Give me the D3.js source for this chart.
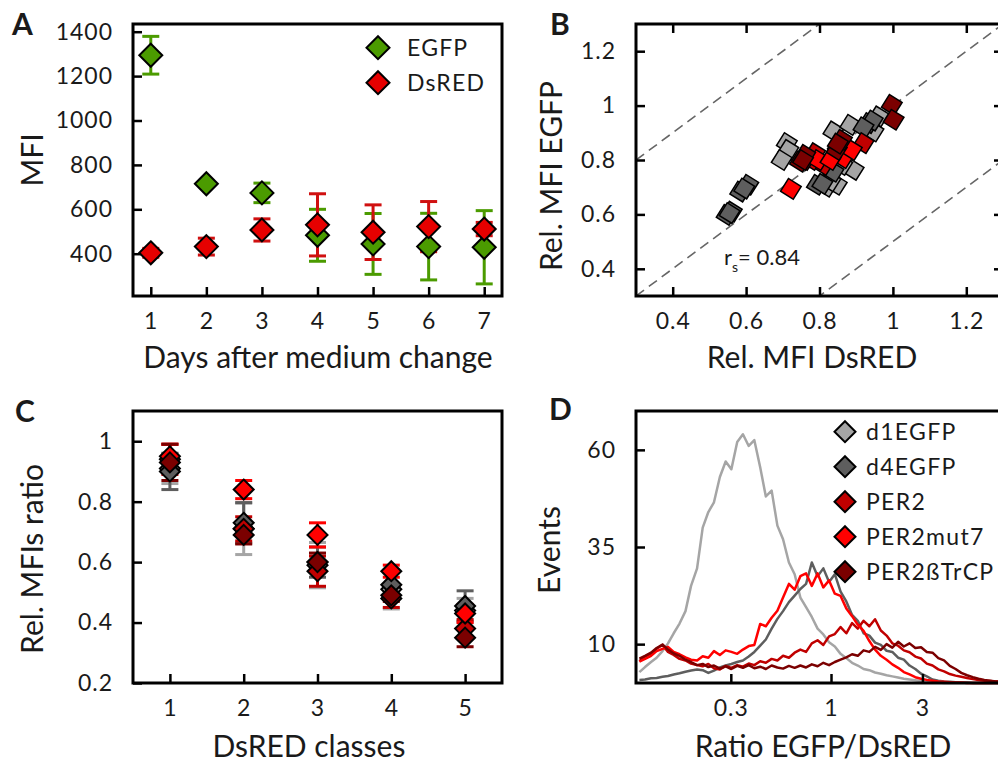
<!DOCTYPE html>
<html>
<head>
<meta charset="utf-8">
<title>EGFP / DsRED reporter panels</title>
<script src="https://cdn.jsdelivr.net/npm/d3@7"></script>
<style>
body{margin:0;background:#fff;}
svg text{font-family:Lato,"Open Sans",sans-serif;fill:#1a1a1a;}
.tick text{font-size:23px;letter-spacing:1px;}
</style>
</head>
<body>
<div id="fig"></div>
<script>
// ---------- panel A : MFI over days
var days = [1,2,3,4,5,6,7];
var egfpMFI  = [1294,715,674,483,444,432,429];
var egfpErr  = [85,10,44,117,137,150,165];
var dsredMFI = [404,432,507,530,497,522,511];
var dsredErr = [20,38,50,140,123,113,30];

// ---------- panel B : rel. MFI DsRED (x) vs rel. MFI EGFP (y)
var d1X = [0.711,0.715,0.697,0.820,0.847,0.893,0.838,0.884,0.961,0.947,0.830,0.862];
var d1Y = [0.862,0.837,0.800,0.702,0.709,0.764,0.905,0.929,0.960,0.905,0.722,0.782];
var d4X = [0.547,0.561,0.555,0.584,0.606,0.595,0.838,0.793,0.808,0.934,0.945,0.920];
var d4Y = [0.598,0.610,0.605,0.684,0.709,0.695,0.757,0.709,0.712,0.936,0.945,0.920];
var per2X = [0.788,0.811,0.920,0.780,0.850,0.760];
var per2Y = [0.825,0.782,0.862,0.800,0.850,0.800];
var mut7X = [0.722,0.797,0.865,0.888,0.830];
var mut7Y = [0.694,0.800,0.807,0.837,0.800];
var btrcpX = [0.761,0.747,0.847,0.861,0.997,1.002,0.755,0.850];
var btrcpY = [0.819,0.794,0.837,0.874,1.003,0.948,0.800,0.860];
var rs = 0.84;

// ---------- panel C : rel. MFIs ratio per DsRED class
var classes = [1,2,3,4,5];
var cD1    = [0.91,0.71,0.59,0.51,0.44], cD1Err    = [0.05,0.085,0.075,0.065,0.04];
var cD4    = [0.90,0.73,0.60,0.525,0.455], cD4Err  = [0.06,0.067,0.05,0.04,0.05];
var cPer2  = [0.94,0.71,0.57,0.48,0.38], cPer2Err  = [0.05,0.04,0.05,0.03,0.03];
var cMut7  = [0.95,0.84,0.69,0.57,0.43], cMut7Err  = [0.04,0.03,0.04,0.02,0.03];
var cBtrcp = [0.93,0.69,0.60,0.49,0.35], cBtrcpErr = [0.06,0.03,0.03,0.02,0.03];

// ---------- panel D : histograms of EGFP/DsRED ratio
var ratioBins = [0.100,0.107,0.115,0.123,0.132,0.141,0.151,0.162,0.174,0.186,
  0.200,0.214,0.229,0.245,0.263,0.282,0.302,0.324,0.347,0.372,
  0.398,0.427,0.457,0.490,0.525,0.562,0.603,0.646,0.692,0.741,
  0.794,0.851,0.912,0.977,1.047,1.122,1.202,1.288,1.380,1.479,
  1.585,1.698,1.820,1.950,2.089,2.239,2.399,2.570,2.754,2.951,
  3.162,3.388,3.631,3.890,4.169,4.467,4.786,5.129,5.495,5.888,
  6.310,6.761,7.244,7.762];
var histD1 = [2.8,4.1,5.4,6.5,8.2,10.2,12.8,15.3,18.5,25,
  29.5,40,44,46.5,53,57,55,62,64,61,
  62.5,55.5,48,49.5,40.5,37,31,28,22,19.5,
  17,14,12.5,10.5,9.4,7.5,6.4,5.2,4.5,3.6,
  3.3,2.7,2.4,2,1.7,1.4,1.1,0.9,0.7,0.5,
  0.3,0.2,0.1,0,0,0,0,0,0,0,0,0,0,0];
var histD4 = [0.8,0.9,1.2,1.3,1.6,1.8,2.2,2.5,2.9,3.2,
  3.5,3.3,2.6,3.2,4.0,4.5,4.9,5.4,5.8,6.8,
  8.0,9.6,11.2,14.0,16.5,18.5,20.8,22.5,24.2,25.5,
  31,27.5,29.5,26.0,28,23.5,21,17.5,16,12.8,
  12.2,10.4,9.8,8.3,8.0,6.5,6.0,4.5,3.6,2.4,
  1.7,0.9,0.6,0.4,0.3,0.2,0.1,0.1,0,0,0,0,0,0];
var histPer2 = [5.6,6.8,7.5,8.8,9.8,8.0,7.2,6.2,5.8,5.0,
  4.6,4.3,4.9,3.8,3.5,4.4,3.9,4.6,4.2,5.0,
  4.6,5.6,5.2,6.2,5.8,7.0,6.5,7.8,8.6,8.0,
  10.2,11.0,9.8,12.0,12.6,14.4,12.8,15.4,14.0,16.0,
  14.6,16.4,13.5,12.2,10.2,9.6,8.4,7.9,6.8,6.3,
  5.0,4.5,3.5,3.0,2.3,1.9,1.6,1.3,1.0,0.8,
  0.6,0.5,0.4,0.3];
var histMut7 = [5.5,6.2,7.0,8.2,8.8,9.3,8.0,7.4,6.6,6.0,
  5.8,6.9,6.5,8.2,7.2,8.4,8.0,7.5,8.6,9.5,
  9.8,15.2,14.6,16.8,18.6,22.0,25.5,24.0,27.5,28.2,
  25.0,28.2,24.6,26.4,23.0,22.4,19.2,17.2,15.0,13.4,
  10.8,8.6,7.0,6.0,4.8,3.9,2.8,2.2,1.5,1.1,
  0.8,0.6,0.4,0.3,0.2,0.1,0.1,0,0,0,0,0,0,0];
var histBtrcp = [6.3,7.0,7.8,9.0,9.9,8.6,7.6,7.0,6.0,5.4,
  4.6,4.9,4.1,4.5,3.7,4.3,3.6,4.4,3.9,4.6,
  3.8,4.2,3.6,4.5,4.0,3.7,4.4,3.9,4.5,4.0,
  4.8,4.3,5.2,4.6,5.4,6.0,6.6,7.4,7.0,8.4,
  8.0,9.3,8.5,10.0,9.1,10.6,9.4,10.2,9.0,9.2,
  8.0,7.8,6.4,5.8,4.4,3.6,2.6,2.0,1.5,1.1,
  0.8,0.6,0.4,0.3];

var seriesNames = ["d1EGFP","d4EGFP","PER2","PER2mut7","PER2\u00dfTrCP"];
var seriesColors = ["#a5a5a5","#5e5e5e","#c00000","#ff0000","#7b0000"];
var green = "#4b9b00", red = "#e60000", redBar = "#d01010";

var svg = d3.select("#fig").append("svg")
  .attr("width", 998).attr("height", 762);

function diamond(r){ return "M0," + (-r) + "L" + r + ",0L0," + r + "L" + (-r) + ",0Z"; }

// box + inward ticks
function frame(g, x, y, opts){
  var x0 = x.range()[0], x1 = x.range()[1], y0 = y.range()[0], y1 = y.range()[1];
  g.append("g").attr("transform", "translate(0," + y0 + ")")
    .call(d3.axisBottom(x).tickValues(opts.xt).tickFormat(opts.xf || d3.format("")).tickSize(-9).tickPadding(17));
  g.append("g").attr("transform", "translate(" + x0 + ",0)")
    .call(d3.axisLeft(y).tickValues(opts.yt).tickFormat(opts.yf || d3.format("")).tickSize(-9).tickPadding(20));
  if (opts.all) {
    g.append("g").attr("transform", "translate(0," + y1 + ")")
      .call(d3.axisTop(x).tickValues(opts.xt).tickFormat("").tickSize(-9));
    g.append("g").attr("transform", "translate(" + x1 + ",0)")
      .call(d3.axisRight(y).tickValues(opts.yt).tickFormat("").tickSize(-9));
  }
  g.selectAll(".domain").remove();
  g.selectAll(".tick line").attr("stroke", "#000").attr("stroke-width", 2.5);
  g.selectAll(".tick text").attr("fill", "#1a1a1a");
  g.append("rect").attr("x", x0).attr("y", y1).attr("width", x1 - x0).attr("height", y0 - y1)
    .attr("fill", "none").attr("stroke", "#000").attr("stroke-width", 3);
}

function label(t, x, y, rot){
  var s = svg.append("text").attr("text-anchor", "middle").style("font-size", "30px").text(t);
  if (rot) s.attr("transform", "translate(" + x + "," + y + ") rotate(-90)");
  else s.attr("x", x).attr("y", y);
  return s;
}

function errBars(g, xs, ys, es, x, y, color){
  var d = xs.map(function(v, i){ return [v, ys[i], es[i]]; });
  var eg = g.append("g").attr("stroke", color).attr("stroke-width", 3).attr("fill", "none");
  eg.selectAll(".v").data(d).enter().append("line")
    .attr("x1", function(p){ return x(p[0]); }).attr("x2", function(p){ return x(p[0]); })
    .attr("y1", function(p){ return y(p[1] - p[2]); }).attr("y2", function(p){ return y(p[1] + p[2]); });
  [-1, 1].forEach(function(s){
    eg.selectAll(".c" + s).data(d).enter().append("line")
      .attr("x1", function(p){ return x(p[0]) - 8.5; }).attr("x2", function(p){ return x(p[0]) + 8.5; })
      .attr("y1", function(p){ return y(p[1] + s * p[2]); }).attr("y2", function(p){ return y(p[1] + s * p[2]); });
  });
}

function diamonds(g, xs, ys, x, y, color, r){
  g.append("g").selectAll("path").data(xs.map(function(v, i){ return [v, ys[i]]; })).enter().append("path")
    .attr("d", diamond(r))
    .attr("transform", function(p){ return "translate(" + x(p[0]) + "," + y(p[1]) + ")"; })
    .attr("fill", color).attr("stroke", "#000").attr("stroke-width", 2);
}

// ================= A
var gA = svg.append("g");
var xA = d3.scaleLinear().domain([0.68, 7.32]).range([133, 502]);
var yA = d3.scaleLinear().domain([209.5, 1434.7]).range([296, 24]);
frame(gA, xA, yA, {xt: days, yt: [400,600,800,1000,1200,1400]});
errBars(gA, days, egfpMFI, egfpErr, xA, yA, green);
errBars(gA, days, dsredMFI, dsredErr, xA, yA, redBar);
diamonds(gA, days, egfpMFI, xA, yA, green, 11.5);
diamonds(gA, days, dsredMFI, xA, yA, red, 11.5);
[["EGFP", green], ["DsRED", red]].forEach(function(l, i){
  gA.append("path").attr("d", diamond(11.5)).attr("transform", "translate(378," + (47.7 + 35 * i) + ")")
    .attr("fill", l[1]).attr("stroke", "#000").attr("stroke-width", 2);
  gA.append("text").attr("x", 407).attr("y", 47.7 + 35 * i).attr("dy", "0.36em")
    .style("font-size", "23px").style("letter-spacing", "1.2px").text(l[0]);
});
label("MFI", 43, 160, true);
label("Days after medium change", 318, 368);

// ================= B
var gB = svg.append("g");
var xB = d3.scaleLinear().domain([0.3, 1.3]).range([636, 1003]);
var yB = d3.scaleLinear().domain([0.3, 1.3]).range([296, 24]);
gB.append("clipPath").attr("id", "clipB").append("rect")
  .attr("x", 636).attr("y", 24).attr("width", 367).attr("height", 272);
[-0.5, 0, 0.5].forEach(function(off){
  gB.append("line").attr("clip-path", "url(#clipB)")
    .attr("x1", xB(0.3)).attr("y1", yB(0.3 + off)).attr("x2", xB(1.3)).attr("y2", yB(1.3 + off))
    .attr("stroke", "#666").attr("stroke-width", 1.6).attr("stroke-dasharray", "10,6");
});
[[d1X, d1Y], [d4X, d4Y], [per2X, per2Y], [mut7X, mut7Y], [btrcpX, btrcpY]].forEach(function(s, k){
  gB.append("g").selectAll("path").data(s[0].map(function(v, i){ return [v, s[1][i]]; })).enter().append("path")
    .attr("d", d3.symbol(d3.symbolSquare, 225)())
    .attr("transform", function(p){ return "translate(" + xB(p[0]) + "," + yB(p[1]) + ") rotate(32)"; })
    .attr("fill", seriesColors[k]).attr("stroke", "#000").attr("stroke-width", 1.5);
});
frame(gB, xB, yB, {xt: [0.4,0.6,0.8,1,1.2], yt: [0.4,0.6,0.8,1,1.2], xf: d3.format("~g"), yf: d3.format("~g"), all: true});
var rsT = gB.append("text").attr("x", 724).attr("y", 265).style("font-size", "22px");
rsT.append("tspan").text("r");
rsT.append("tspan").attr("dy", 7).style("font-size", "14px").text("s");
rsT.append("tspan").attr("dy", -7).text("= " + rs);
label("Rel. MFI EGFP", 562, 176, true);
label("Rel. MFI DsRED", 812, 368);

// ================= C
var gC = svg.append("g");
var xC = d3.scaleLinear().domain([0.5, 5.5]).range([133, 502]);
var yC = d3.scaleLinear().domain([0.2, 1.1]).range([683, 411]);
frame(gC, xC, yC, {xt: classes, yt: [0.2,0.4,0.6,0.8,1], yf: d3.format("~g")});
var cMeans = [cD1, cD4, cPer2, cMut7, cBtrcp], cErrs = [cD1Err, cD4Err, cPer2Err, cMut7Err, cBtrcpErr];
cMeans.forEach(function(m, k){ errBars(gC, classes, m, cErrs[k], xC, yC, seriesColors[k]); });
cMeans.forEach(function(m, k){ diamonds(gC, classes, m, xC, yC, seriesColors[k], 10); });
label("Rel. MFIs ratio", 43, 559, true);
label("DsRED classes", 309, 757);

// ================= D
var gD = svg.append("g");
var xD = d3.scaleLog().domain([0.096, 7.9]).range([636, 1003]);
var yD = d3.scaleLinear().domain([0, 70]).range([683, 411]);
var line = d3.line().x(function(d){ return xD(d[0]); }).y(function(d){ return yD(d[1]); });
[histD1, histD4, histPer2, histMut7, histBtrcp].forEach(function(h, k){
  gD.append("path").datum(ratioBins.map(function(r, i){ return [r, h[i]]; }))
    .attr("d", line).attr("fill", "none").attr("stroke", seriesColors[k])
    .attr("stroke-width", 2.5).attr("stroke-linejoin", "round");
});
frame(gD, xD, yD, {xt: [0.3, 1, 3], yt: [10, 35, 60], xf: d3.format("~g")});
seriesNames.forEach(function(n, i){
  var yy = 431.7 + 35 * i;
  gD.append("path").attr("d", diamond(10.5)).attr("transform", "translate(845," + yy + ")")
    .attr("fill", seriesColors[i]).attr("stroke", "#000").attr("stroke-width", 2);
  gD.append("text").attr("x", 866).attr("y", yy).attr("dy", "0.36em")
    .style("font-size", "23px").style("letter-spacing", "1.3px").text(n);
});
label("Events", 560, 550, true);
label("Ratio EGFP/DsRED", 823, 757);

// panel letters
[["A", 12, 35], ["B", 550, 35], ["C", 15, 422], ["D", 549, 420]].forEach(function(p){
  svg.append("text").attr("x", p[1]).attr("y", p[2]).style("font-size", "30px")
    .style("font-weight", "bold").text(p[0]);
});
</script>
</body>
</html>
